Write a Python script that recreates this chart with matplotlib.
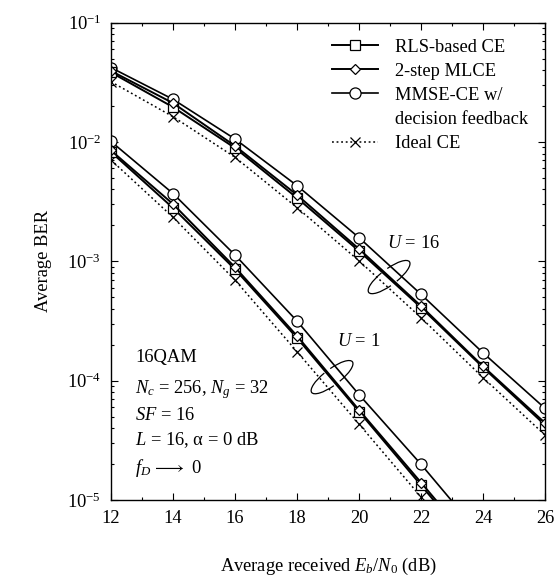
import numpy as np
import matplotlib
matplotlib.use("Agg")
import matplotlib.pyplot as plt
import matplotlib.transforms as mtransforms
from matplotlib.lines import Line2D
from matplotlib.patches import Arc
from matplotlib.ticker import MultipleLocator, LogLocator, NullFormatter

plt.rcParams['font.family'] = ['Liberation Serif', 'DejaVu Serif']
plt.rcParams['mathtext.fontset'] = 'custom'
plt.rcParams['mathtext.rm'] = 'Liberation Serif'
plt.rcParams['mathtext.it'] = 'Liberation Serif:italic'
plt.rcParams['font.size'] = 13.3

# Eb/N0 (dB)
ebn0 = [12, 14, 16, 18, 20, 22, 24, 26]

# U = 16
u16_rls = [0.0383, 0.0196, 0.00891, 0.00340, 0.00122, 4.10e-4, 1.29e-4, 4.25e-5]
u16_mlce = [0.0394, 0.0212, 0.00927, 0.00360, 0.00127, 4.22e-4, 1.32e-4, 4.42e-5]
u16_mmse = [0.0420, 0.0228, 0.0106, 0.00431, 0.00158, 5.29e-4, 1.71e-4, 5.86e-5]
u16_ideal = [0.0320, 0.0163, 0.00745, 0.00282, 0.00101, 3.37e-4, 1.06e-4, 3.50e-5]

# U = 1 (last point is below the plotted range)
ebn0_u1 = [12, 14, 16, 18, 20, 22, 24]
u1_rls = [0.00824, 0.00280, 8.57e-4, 2.28e-4, 5.51e-5, 1.33e-5, 3.2e-6]
u1_mlce = [0.00849, 0.00302, 8.91e-4, 2.37e-4, 5.68e-5, 1.40e-5, 3.4e-6]
u1_mmse = [0.0101, 0.00370, 0.00113, 3.16e-4, 7.64e-5, 1.99e-5, 4.8e-6]
u1_ideal = [0.00706, 0.00234, 6.97e-4, 1.75e-4, 4.33e-5, 1.06e-5, 2.5e-6]

# ring markers around each group (data coords of centre)
ring_x = [20.97, 19.13]
ring_y = [7.38e-4, 1.07e-4]

fig = plt.figure(figsize=(5.57, 5.86), dpi=100)
ax = fig.add_axes([0.1993, 0.1468, 0.7792, 0.8145])

sty_ideal = dict(color='k', lw=1.1, ls=(0, (1.2, 1.8)), marker='x', ms=7, mew=0.9)
sty_mmse = dict(color='k', lw=1.2, marker='o', ms=8, mfc='white', mew=0.9)
sty_rls = dict(color='k', lw=1.4, marker='s', ms=6.5, mfc='white', mew=0.9)
sty_mlce = dict(color='k', lw=1.4, marker='D', ms=5, mfc='white', mew=0.9)

for x, ideal, mmse, rls, mlce in [(ebn0, u16_ideal, u16_mmse, u16_rls, u16_mlce),
                                   (ebn0_u1, u1_ideal, u1_mmse, u1_rls, u1_mlce)]:
    ax.plot(x, ideal, **sty_ideal)
    ax.plot(x, mmse, **sty_mmse)
    ax.plot(x, rls, **sty_rls)
    ax.plot(x, mlce, **sty_mlce)

ax.set_yscale('log')
ax.set_xlim(12, 26)
ax.set_ylim(1e-5, 1e-1)
ax.xaxis.set_major_locator(MultipleLocator(2))
ax.xaxis.set_minor_locator(MultipleLocator(1))
ax.yaxis.set_major_locator(LogLocator(base=10, numticks=10))
ax.yaxis.set_minor_locator(LogLocator(base=10, subs=np.arange(2, 10), numticks=10))
ax.yaxis.set_minor_formatter(NullFormatter())
ax.tick_params(which='both', direction='in', top=True, right=True, width=0.8)
ax.tick_params(which='major', length=5, pad=7)
ax.tick_params(which='minor', length=2.5)
for s in ax.spines.values():
    s.set_linewidth(1.0)

ax.set_xlabel('Average received $E_b$/$N_0$ (dB)')
ax.xaxis.set_label_coords(0.5, -0.14)
ax.xaxis.label.set_va('center')
ax.set_ylabel('Average BER')
ax.yaxis.set_label_coords(-0.155, 0.5)
ax.yaxis.label.set_va('center')

# legend
handles = [Line2D([], [], **sty_rls), Line2D([], [], **sty_mlce),
           Line2D([], [], **sty_mmse), Line2D([], [], ls='none'),
           Line2D([], [], **sty_ideal)]
labels = ['RLS-based CE', '2-step MLCE', 'MMSE-CE w/', 'decision feedback', 'Ideal CE']
ax.legend(handles, labels, loc='upper left', bbox_to_anchor=(0.5085, 0.966),
          frameon=False, borderpad=0, borderaxespad=0, handlelength=2.5,
          handletextpad=0.9, labelspacing=0.38)

# parameters
params = ['16QAM', '$N_c$ = 256, $N_g$ = 32', '$SF$ = 16',
          '$L$ = 16, α = 0 dB', r'$f_D\,\longrightarrow$ 0']
param_y = [0.298, 0.232, 0.176, 0.125, 0.066]
for txt, yy in zip(params, param_y):
    ax.text(0.055, yy, txt, transform=ax.transAxes, va='center', ha='left')

# group annotations
ax.text(0.637, 0.538, '$U$ = 16', transform=ax.transAxes, va='center', ha='left')
ax.text(0.521, 0.331, '$U$ = 1', transform=ax.transAxes, va='center', ha='left')

for xc, yc in zip(ring_x, ring_y):
    tr = fig.dpi_scale_trans + mtransforms.ScaledTranslation(xc, yc, ax.transData)
    # ring passes behind the bundle of curves, so leave gaps there
    for t1, t2 in [(115, 245), (295, 425)]:
        ax.add_patch(Arc((0, 0), 0.51, 0.16, angle=37, theta1=t1, theta2=t2,
                         ec='k', lw=0.9, transform=tr))

fig.savefig('out.png', dpi=100)
